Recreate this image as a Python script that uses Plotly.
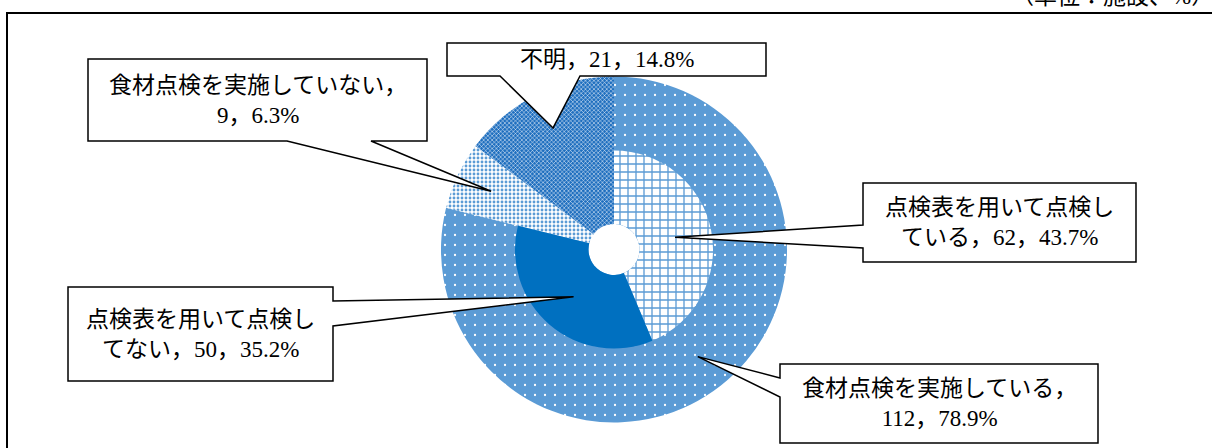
import math
import plotly.graph_objects as go

# ---------------- data ----------------
outer_labels = ["食材点検を実施している", "食材点検を実施していない", "不明"]
outer_values = [112, 9, 21]
outer_pcts = [78.9, 6.3, 14.8]

inner_labels = ["点検表を用いて点検している", "点検表を用いて点検してない"]
inner_values = [62, 50]
inner_pcts = [43.7, 35.2]

unit_text = "（単位：施設、%）"

# ---------------- layout helpers ----------------
W, H = 1212, 448
CX, CY = 614, 249.5
R_OUT, R_IN, R_HOLE = 173, 99, 25.5
FONT = "Liberation Serif, Noto Sans CJK JP, sans-serif"
FS = 23


def px(x):
    return x / W


def py(y):
    return 1 - y / H


def domain(r):
    return dict(x=[px(CX - r), px(CX + r)], y=[py(CY + r), py(CY - r)])


total = sum(outer_values)
rest = total - sum(inner_values)

fig = go.Figure()

# outer pie (full, small hole) – the inner ring covers part of it
fig.add_trace(go.Pie(
    values=outer_values, labels=outer_labels, sort=False, direction="clockwise",
    hole=R_HOLE / R_OUT, domain=domain(R_OUT), textinfo="none", hoverinfo="skip",
    showlegend=False,
    marker=dict(
        colors=["#5B9BD5", "#FFFFFF", "#0070C0"],
        line=dict(width=0),
        pattern=dict(
            shape=[".", ".", "x"],
            fgcolor=["#FFFFFF", "#5B9BD5", "#FFFFFF"],
            bgcolor=["#5B9BD5", "#FFFFFF", "#1F6FBF"],
            size=[10, 4, 3],
            solidity=[0.04, 0.4, 0.3],
            fillmode="replace",
        ),
    ),
))

# inner ring
fig.add_trace(go.Pie(
    values=inner_values + [rest], labels=inner_labels + ["_rest"], sort=False,
    direction="clockwise", hole=R_HOLE / R_IN, domain=domain(R_IN),
    textinfo="none", hoverinfo="skip", showlegend=False,
    marker=dict(
        colors=["#FFFFFF", "#0070C0", "rgba(0,0,0,0)"],
        line=dict(width=0),
        pattern=dict(
            shape=["+", "", ""],
            fgcolor=["#5B9BD5", "#0070C0", "rgba(0,0,0,0)"],
            bgcolor=["#FFFFFF", "#0070C0", "rgba(0,0,0,0)"],
            size=[8, 8, 8],
            solidity=[0.3, 0.3, 0.3],
            fillmode="replace",
        ),
    ),
))


def tip_point(values, idx, r):
    start = sum(values[:idx])
    mid = (start + values[idx] / 2) / total
    th = 2 * math.pi * mid
    return (CX + r * math.sin(th), CY - r * math.cos(th))


def callout_path(x0, y0, x1, y1, side, a, b, tip):
    if side == "top":
        pts = [(x0, y0), (a, y0), tip, (b, y0), (x1, y0), (x1, y1), (x0, y1)]
    elif side == "right":
        pts = [(x0, y0), (x1, y0), (x1, a), tip, (x1, b), (x1, y1), (x0, y1)]
    elif side == "bottom":
        pts = [(x0, y0), (x1, y0), (x1, y1), (b, y1), tip, (a, y1), (x0, y1)]
    else:
        pts = [(x0, y0), (x1, y0), (x1, y1), (x0, y1), (x0, b), tip, (x0, a)]
    return "M " + " L ".join(f"{px(x):.5f},{py(y):.5f}" for x, y in pts) + " Z"


r_outer_mid = (R_IN + R_OUT) / 2
r_inner_mid = (R_HOLE + R_IN) / 2

callouts = [
    # (values, idx, radius, label, value, pct, break_at, box, side, a, b)
    (outer_values, 2, r_outer_mid, outer_labels[2], outer_values[2], outer_pcts[2], None,
     (447, 43, 766, 76), "bottom", 500, 580),
    (outer_values, 1, r_outer_mid, outer_labels[1], outer_values[1], outer_pcts[1], "value",
     (88, 59, 427, 141), "bottom", 287, 371),
    (inner_values, 0, r_inner_mid, inner_labels[0], inner_values[0], inner_pcts[0], 10,
     (863, 183, 1136, 262), "left", 225, 248),
    (inner_values, 1, r_inner_mid, inner_labels[1], inner_values[1], inner_pcts[1], 10,
     (68, 287, 333, 381), "right", 301, 326),
    (outer_values, 0, r_outer_mid, outer_labels[0], outer_values[0], outer_pcts[0], "value",
     (780, 364, 1098, 443), "left", 378, 397),
]

shapes = [dict(type="rect", xref="paper", yref="paper", x0=px(7), y0=py(13), x1=px(1225),
               y1=py(470), line=dict(color="black", width=2), layer="below")]
annotations = []
for vals, idx, r, lab, val, pct, brk, box, side, a, b in callouts:
    tip = tip_point(vals, idx, r)
    x0, y0, x1, y1 = box
    shapes.append(dict(type="path", xref="paper", yref="paper",
                       path=callout_path(x0, y0, x1, y1, side, a, b, tip),
                       fillcolor="white", line=dict(color="black", width=1.5),
                       layer="above"))
    full = f"{lab}，{val}，{pct}%"
    if brk is None:
        txt = full
    elif brk == "value":
        txt = f"{lab}，<br>{val}，{pct}%"
    else:
        txt = full[:brk] + "<br>" + full[brk:]
    annotations.append(dict(x=px((x0 + x1) / 2), y=py((y0 + y1) / 2), xref="paper",
                            yref="paper", text=txt, showarrow=False, align="center",
                            xanchor="center", yanchor="middle",
                            font=dict(family=FONT, size=FS, color="black")))

annotations.append(dict(x=px(1216), y=py(-4), xref="paper", yref="paper", text=unit_text,
                        showarrow=False, xanchor="right", yanchor="middle",
                        font=dict(family=FONT, size=FS, color="black")))

fig.update_layout(width=W, height=H, margin=dict(l=0, r=0, t=0, b=0),
                  paper_bgcolor="white", plot_bgcolor="white",
                  shapes=shapes, annotations=annotations)

fig.write_html("out.html")
